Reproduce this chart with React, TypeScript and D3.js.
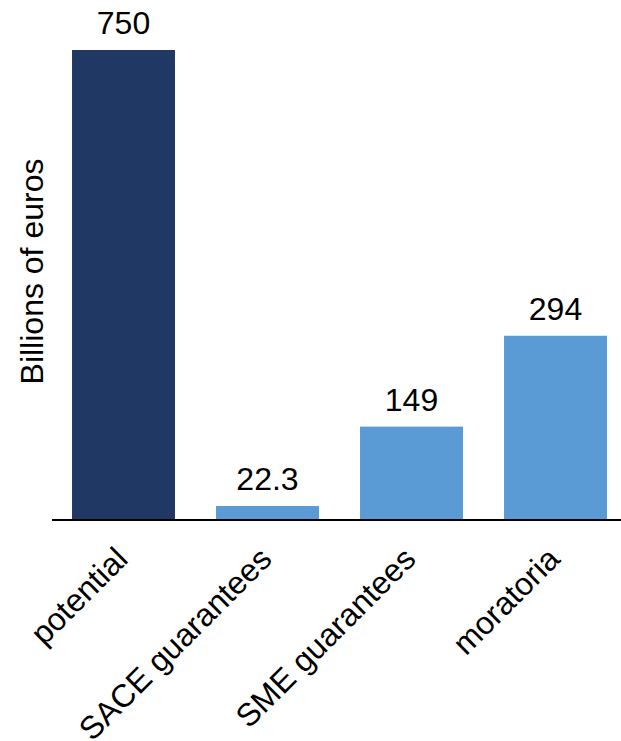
import React from "react";
import * as d3 from "d3";

const categories = ["potential", "SACE guarantees", "SME guarantees", "moratoria"];
const values = [750, 22.3, 149, 294];
const valueLabels = ["750", "22.3", "149", "294"];
const barColors = ["#203864", "#5B9BD5", "#5B9BD5", "#5B9BD5"];

const W = 621;
const H = 741;
const FONT = "Liberation Sans, Arial, sans-serif";
const FS = 32;

export default function App() {
  const baseY = 520;
  const x = d3
    .scaleBand<string>()
    .domain(categories)
    .range([51.5, 627.5])
    .paddingInner(0.285)
    .paddingOuter(0.1425);
  const y = d3.scaleLinear().domain([0, 750]).range([baseY, 50]);

  return (
    <svg
      width={W}
      height={H}
      style={{ position: "absolute", left: 0, top: 0, background: "#fff" }}
      fontFamily={FONT}
    >
      {categories.map((c, i) => {
        const bx = x(c)!;
        const cx = bx + x.bandwidth() / 2;
        return (
          <g key={c}>
            <rect
              x={bx}
              y={y(values[i])}
              width={x.bandwidth()}
              height={baseY - y(values[i])}
              fill={barColors[i]}
            />
            <text
              x={cx}
              y={y(values[i]) - 16}
              textAnchor="middle"
              fontSize={FS}
              fill="#000"
            >
              {valueLabels[i]}
            </text>
            <text
              transform={`translate(${cx + 6},${baseY + 41}) rotate(-45)`}
              textAnchor="end"
              fontSize={FS}
              fill="#000"
            >
              {c}
            </text>
          </g>
        );
      })}
      <line x1={52} x2={W} y1={baseY} y2={baseY} stroke="#000" strokeWidth={2} />
      <text
        transform={`translate(43,${271.5}) rotate(-90)`}
        textAnchor="middle"
        fontSize={FS}
        fill="#000"
      >
        Billions of euros
      </text>
    </svg>
  );
}
